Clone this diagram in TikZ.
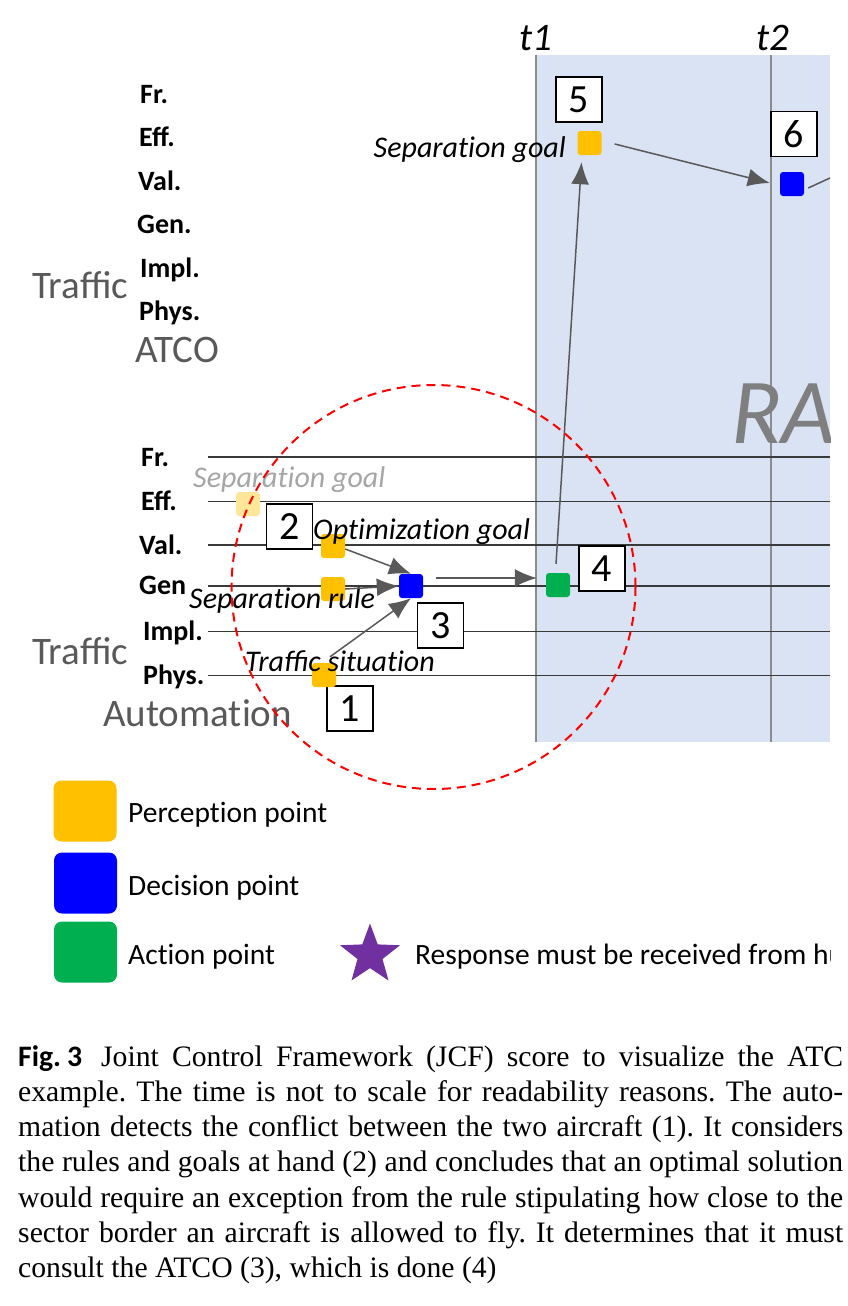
\documentclass[tikz,border=0pt]{standalone}
\usepackage{fontspec}
\setmainfont{Liberation Serif}
\newfontfamily\calfont{Carlito}
\usetikzlibrary{arrows.meta,shapes.geometric}
\newcommand{\tI}{t\kern0pt i}
\frenchspacing
\definecolor{orng}{HTML}{FFC000}
\definecolor{fadeorng}{HTML}{FFE699}
\definecolor{bluept}{HTML}{0000FF}
\definecolor{greenpt}{HTML}{00B050}
\definecolor{purplestar}{HTML}{7030A0}
\definecolor{region}{HTML}{DAE3F3}
\definecolor{graytxt}{HTML}{595959}
\definecolor{fadetxt}{HTML}{A6A6A6}
\definecolor{ragray}{HTML}{7F7F7F}
\definecolor{arrgray}{HTML}{595959}
\definecolor{lanegray}{HTML}{3A3A3A}
\definecolor{vgray}{HTML}{8C8C8C}
\tikzset{
 lvl/.style={font=\calfont\bfseries\fontsize{28}{30}\selectfont, anchor=base west, inner sep=0pt},
 bigl/.style={font=\calfont\fontsize{39}{42}\selectfont, text=graytxt, anchor=base west, inner sep=0pt},
 itl/.style={font=\calfont\itshape\fontsize{30}{32}\selectfont, anchor=base west, inner sep=0pt},
 tlab/.style={font=\calfont\itshape\fontsize{39}{40}\selectfont, anchor=base, inner sep=0pt},
 numbox/.style={draw=black, line width=1.5pt, fill=white, minimum width=46pt, minimum height=45pt, inner sep=0pt, font=\calfont\fontsize{40}{42}\selectfont},
 sq/.style={minimum size=24pt, inner sep=0pt, rounded corners=3pt},
 arr/.style={draw=arrgray, line width=1.5pt, -{Latex[length=22pt,width=18pt]}},
 lane/.style={draw=lanegray, line width=1.8pt},
 tline/.style={draw=vgray, line width=1.7pt},
 legsq/.style={minimum width=63pt, minimum height=61pt, inner sep=0pt, rounded corners=8pt},
 legtxt/.style={font=\calfont\fontsize{29.5}{32}\selectfont, anchor=base west, inner sep=0pt},
 captext/.style={font=\fontsize{29.7}{35}\selectfont, anchor=base west, inner sep=0pt},
}
\begin{document}
\begin{tikzpicture}[x=1pt,y=-1pt]
\useasboundingbox[fill=white] (0,0) rectangle (848,1306);

% shaded time region
\fill[region] (536,55) rectangle (830,742);
\draw[tline] (536,55) -- (536,742);
\draw[tline] (771,55) -- (771,742);
\node[tlab] (t1) at (536,51) {t1};
\node[tlab] (t2) at (773,51) {t2};

% lanes of the automation
\foreach \yy in {457,501.5,545,586,631.5,675.5}{
  \draw[lane] (208,\yy) -- (830,\yy);
}

% RA
\begin{scope}
\clip (536,55) rectangle (830,742);
\node[font=\calfont\itshape\fontsize{93}{95}\selectfont, text=ragray, anchor=base west, inner sep=0pt] (ra) at (731,443) {RA};
\end{scope}

% ATCO levels
\node[lvl] (afr) at (140,103) {Fr.};
\node[lvl] (aeff) at (139,146) {Eff.};
\node[lvl] (aval) at (138,190) {Val.};
\node[lvl] (agen) at (137,233) {Gen.};
\node[lvl] (aimpl) at (140,277) {Impl.};
\node[lvl] (aphys) at (139,320) {Phys.};
\node[bigl] (atraf) at (32,298) {Traffic};
\node[bigl] (atco) at (135,362) {ATCO};

% Automation levels
\node[lvl] (bfr) at (141,466) {Fr.};
\node[lvl] (beff) at (141,510.5) {Eff.};
\node[lvl] (bval) at (139,554) {Val.};
\node[lvl] (bgen) at (139,594) {Gen};
\node[lvl] (bimpl) at (143,640.5) {Impl.};
\node[lvl] (bphys) at (143,684) {Phys.};
\node[bigl] (btraf) at (32,664) {Traffic};
\node[bigl] (bauto) at (103,726) {Automa\tI on};

% number boxes
\node[numbox] (n1) at (350,708.5) {1};
\node[numbox] (n2) at (289.5,526.5) {2};
\node[numbox] (n3) at (440.5,625.5) {3};
\node[numbox] (n4) at (602,568.5) {4};
\node[numbox] (n5) at (579,99.5) {5};
\node[numbox] (n6) at (794,134) {6};

% points
\node[sq, fill=fadeorng] (ofade) at (248,504) {};
\node[sq, fill=orng] (oVal) at (333,546) {};
\node[sq, fill=orng] (oGen) at (333,589) {};
\node[sq, fill=bluept] (bDec) at (411,586) {};
\node[sq, fill=orng] (oPhys) at (324,675) {};
\node[sq, fill=greenpt] (gAct) at (558,585) {};
\node[sq, fill=orng] (o5) at (589.5,143) {};
\node[sq, fill=bluept] (b6) at (792,184) {};

% labels (italic)
\node[itl, anchor=base east] (sg5) at (566,157) {Separa\tI on goal};
\node[itl, text=fadetxt] (sgf) at (193,487) {Separa\tI on goal};
\node[itl] (og) at (313,539) {Op\tI miza\tI on goal};
\node[itl] (sr) at (189,608) {Separa\tI on rule};
\node[itl] (ts) at (245,671) {Traffic situa\tI on};

% arrows
\draw[arr] ([yshift=-3pt]oVal.east) -- (bDec.north);
\draw[arr] (oGen.east) -- (bDec.west);
\draw[arr] ([xshift=6pt,yshift=6pt]oPhys.north) -- (bDec.south);
\draw[arr] ([xshift=13pt,yshift=8pt]bDec.east) -- ([xshift=-9pt,yshift=7pt]gAct.west);
\draw[arr] ([xshift=-2pt,yshift=9pt]gAct.north) -- ([xshift=-8pt,yshift=-7pt]o5.south);
\draw[arr] ([xshift=13pt,yshift=-1pt]o5.east) -- ([xshift=-10pt,yshift=1pt]b6.west);
\coordinate (offr) at (830,178);
\draw[draw=arrgray, line width=1.5pt] ([xshift=4pt,yshift=-4pt]b6.east) -- (offr);

% red dashed circle
\draw[red, line width=2pt, dash pattern=on 9pt off 6pt] (433.5,587) circle[radius=202];

% legend
\node[legsq, fill=orng] (lgo) at (85,811) {};
\node[legsq, fill=bluept] (lgb) at (85.5,883) {};
\node[legsq, fill=greenpt] (lgg) at (85.5,952) {};
\node[legtxt] (lto) at (128,822) {Percep\tI on point};
\node[legtxt] (ltb) at (128,895) {Decision point};
\node[legtxt] (ltg) at (128,964) {Ac\tI on point};
\node[star, star points=5, star point ratio=2.4, minimum size=63pt, inner sep=0pt, fill=purplestar] (lstar) at (370,955) {};
\begin{scope}
\clip (0,900) rectangle (830,1000);
\node[legtxt] (ltr) at (415,964) {Response must be received from hu};
\end{scope}

% caption
\node[captext] (c1) at (18,1066) {\makebox[825pt][s]{{\calfont\bfseries Fig.\kern6pt3}\hspace*{19pt}Joint Control Framework (JCF) score to visualize the ATC}};
\node[captext] (c2) at (18,1101.3) {\makebox[825pt][s]{example. The time is not to scale for readability reasons. The auto-}};
\node[captext] (c3) at (18,1136.6) {\makebox[825pt][s]{mation detects the conflict between the two aircraft (1). It considers}};
\node[captext] (c4) at (18,1171.9) {\makebox[825pt][s]{the rules and goals at hand (2) and concludes that an optimal solution}};
\node[captext] (c5) at (18,1207.2) {\makebox[825pt][s]{would require an exception from the rule stipulating how close to the}};
\node[captext] (c6) at (18,1242.5) {\makebox[825pt][s]{sector border an aircraft is allowed to fly. It determines that it must}};
\node[captext] (c7) at (18,1277.8) {consult the ATCO (3), which is done (4)};
\end{tikzpicture}
\end{document}
